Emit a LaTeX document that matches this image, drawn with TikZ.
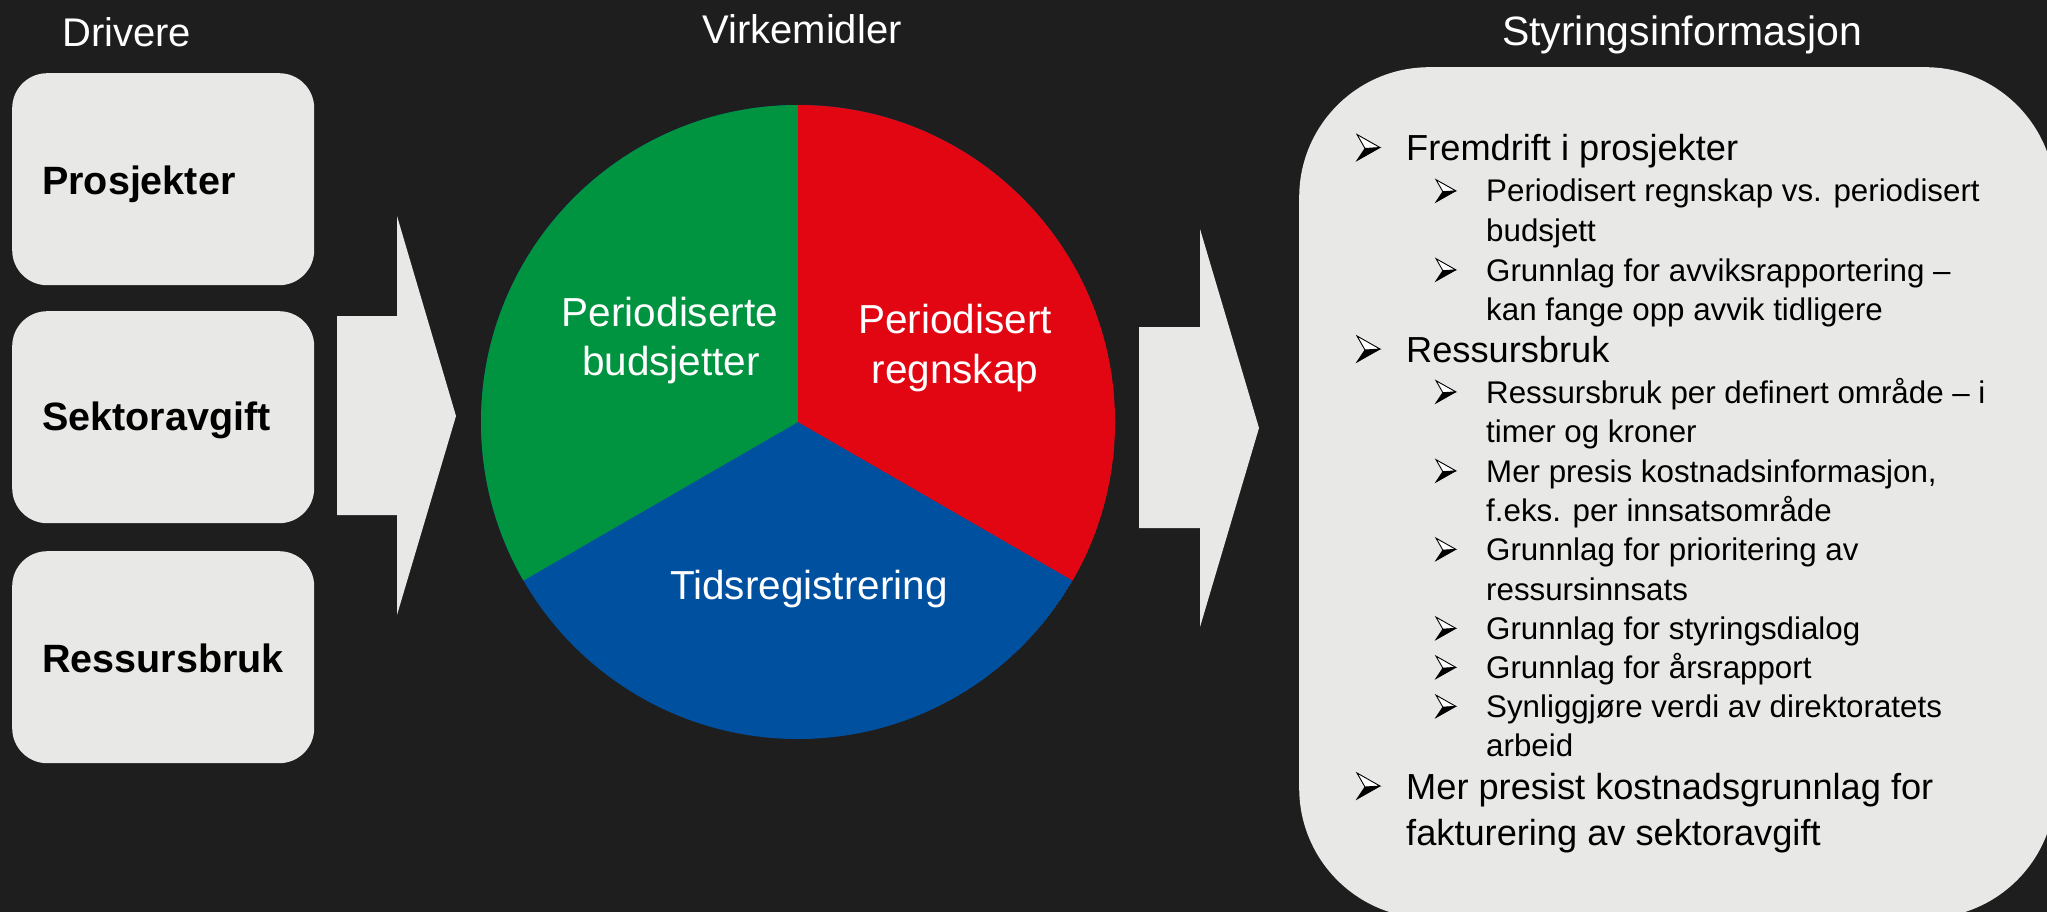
\documentclass[tikz,border=0pt]{standalone}
\usepackage{fontspec}
\usetikzlibrary{calc}
\setmainfont{Liberation Sans}
\definecolor{bg}{RGB}{30,30,30}
\definecolor{lightg}{RGB}{232,232,230}
\definecolor{pgreen}{RGB}{0,148,64}
\definecolor{pred}{RGB}{226,6,19}
\definecolor{pblue}{RGB}{0,80,160}
\begin{document}
\begin{tikzpicture}[x=1pt,y=-1pt,
  hdr/.style={text=white, font=\fontsize{40}{48}\selectfont, inner sep=0pt},
  drvbox/.style={fill=lightg, rounded corners=35pt, inner sep=0pt, anchor=north west, minimum width=302pt, minimum height=212pt},
  drvlbl/.style={font=\fontsize{39.5}{48}\selectfont\bfseries, text=black, anchor=base west, inner sep=0pt},
  pielbl/.style={text=white, font=\fontsize{40.5}{49}\selectfont, anchor=base, inner sep=0pt},
  lvla/.style={font=\fontsize{36.2}{45}\selectfont, anchor=base west, inner sep=0pt, text=black},
  lvlb/.style={font=\fontsize{31.3}{39.5}\selectfont, anchor=base west, inner sep=0pt, text=black},
  blockarrow/.style={fill=lightg},
  arrowbullet/.pic={
    \filldraw[fill=white, draw=black, line width=0.9pt, line join=miter] (0,-26) -- (23,-13) -- (8,-12) -- cycle;
    \fill[black] (8,-12) -- (23,-13) -- (0,0) -- cycle;
    \draw[black, line width=0.9pt, line join=miter] (8,-12) -- (0,0) -- (23,-13);
  },
  bula/.style={scale=1},
  bulb/.style={scale=0.86}
]
\useasboundingbox (0,0) rectangle (2047,912);
\clip (0,0) rectangle (2047,912);
\fill[bg] (0,0) rectangle (2047,912);

% headers
\node[hdr, anchor=base west] (hdrA) at (62,47) {Drivere};
\node[hdr, anchor=base] (hdrB) at (802,44) {Virkemidler};
\node[hdr, anchor=base, font=\fontsize{41}{48}\selectfont] (hdrC) at (1682,46) {Styringsinformasjon};

% driver boxes
\node[drvbox] (box1) at (12,73) {};
\node[drvbox] (box2) at (12,311) {};
\node[drvbox] (box3) at (12,551) {};
\node[drvlbl] (lbl1) at (42,194) {Prosjekter};
\node[drvlbl] (lbl2) at (42,430) {Sektoravgift};
\node[drvlbl] (lbl3) at (42,672) {Ressursbruk};

% block arrows
\fill[blockarrow] (337,316) -- (397,316) -- (397,216) -- (456,416) -- (397,615) -- (397,515) -- (337,515) -- cycle;
\fill[blockarrow] (1139,327) -- (1200,327) -- (1200,229) -- (1259,428) -- (1200,627) -- (1200,528) -- (1139,528) -- cycle;

% pie
\coordinate (c) at (798,422);
\begin{scope}
  \clip (c) circle[radius=317];
  \fill[pblue] (c) circle[radius=317];
  \fill[pgreen] (c) -- ($(c)+(150:700)$) -- ($(c)+(210:700)$) -- ($(c)+(270:700)$) -- cycle;
  \fill[pred] (c) -- ($(c)+(270:700)$) -- ($(c)+(330:700)$) -- ($(c)+(30:700)$) -- cycle;
\end{scope}
\node[pielbl] (pg1) at (670,326) {Periodiserte};
\node[pielbl] (pg2) at (671,375) {budsjetter};
\node[pielbl] (pr1) at (955,333) {Periodisert};
\node[pielbl] (pr2) at (955,383) {regnskap};
\node[pielbl] (pb1) at (809,599) {Tidsregistrering};

% right panel
\node[fill=lightg, rounded corners=130pt, minimum width=756pt, minimum height=851pt, anchor=north west, inner sep=0pt] (panel) at (1299,67) {};

\pic[bula] (ba1) at (1357,160.5) {arrowbullet};
\node[lvla] (ta1) at (1406,160.5) {Fremdrift i prosjekter};
\pic[bulb] (bb1) at (1436,202) {arrowbullet};
\node[lvlb] (tb1) at (1486,202) {Periodisert regnskap vs. periodisert};
\node[lvlb] (tb1b) at (1486,241) {budsjett};
\pic[bulb] (bb2) at (1436,281) {arrowbullet};
\node[lvlb] (tb2) at (1486,281) {Grunnlag for avviksrapportering –};
\node[lvlb] (tb2b) at (1486,320) {kan fange opp avvik tidligere};
\pic[bula] (ba2) at (1357,362) {arrowbullet};
\node[lvla] (ta2) at (1406,362) {Ressursbruk};
\pic[bulb] (bb3) at (1436,403) {arrowbullet};
\node[lvlb] (tb3) at (1486,403) {Ressursbruk per definert område – i};
\node[lvlb] (tb3b) at (1486,442.5) {timer og kroner};
\pic[bulb] (bb4) at (1436,482) {arrowbullet};
\node[lvlb] (tb4) at (1486,482) {Mer presis kostnadsinformasjon,};
\node[lvlb] (tb4b) at (1486,521) {f.eks. per innsatsområde};
\pic[bulb] (bb5) at (1436,560.5) {arrowbullet};
\node[lvlb] (tb5) at (1486,560.5) {Grunnlag for prioritering av};
\node[lvlb] (tb5b) at (1486,600) {ressursinnsats};
\pic[bulb] (bb6) at (1436,639.5) {arrowbullet};
\node[lvlb] (tb6) at (1486,639.5) {Grunnlag for styringsdialog};
\pic[bulb] (bb7) at (1436,678.5) {arrowbullet};
\node[lvlb] (tb7) at (1486,678.5) {Grunnlag for årsrapport};
\pic[bulb] (bb8) at (1436,717.5) {arrowbullet};
\node[lvlb] (tb8) at (1486,717.5) {Synliggjøre verdi av direktoratets};
\node[lvlb] (tb8b) at (1486,756.5) {arbeid};
\pic[bula] (ba3) at (1357,799) {arrowbullet};
\node[lvla] (ta3) at (1406,799) {Mer presist kostnadsgrunnlag for};
\node[lvla] (ta3b) at (1406,845) {fakturering av sektoravgift};
\end{tikzpicture}
\end{document}
